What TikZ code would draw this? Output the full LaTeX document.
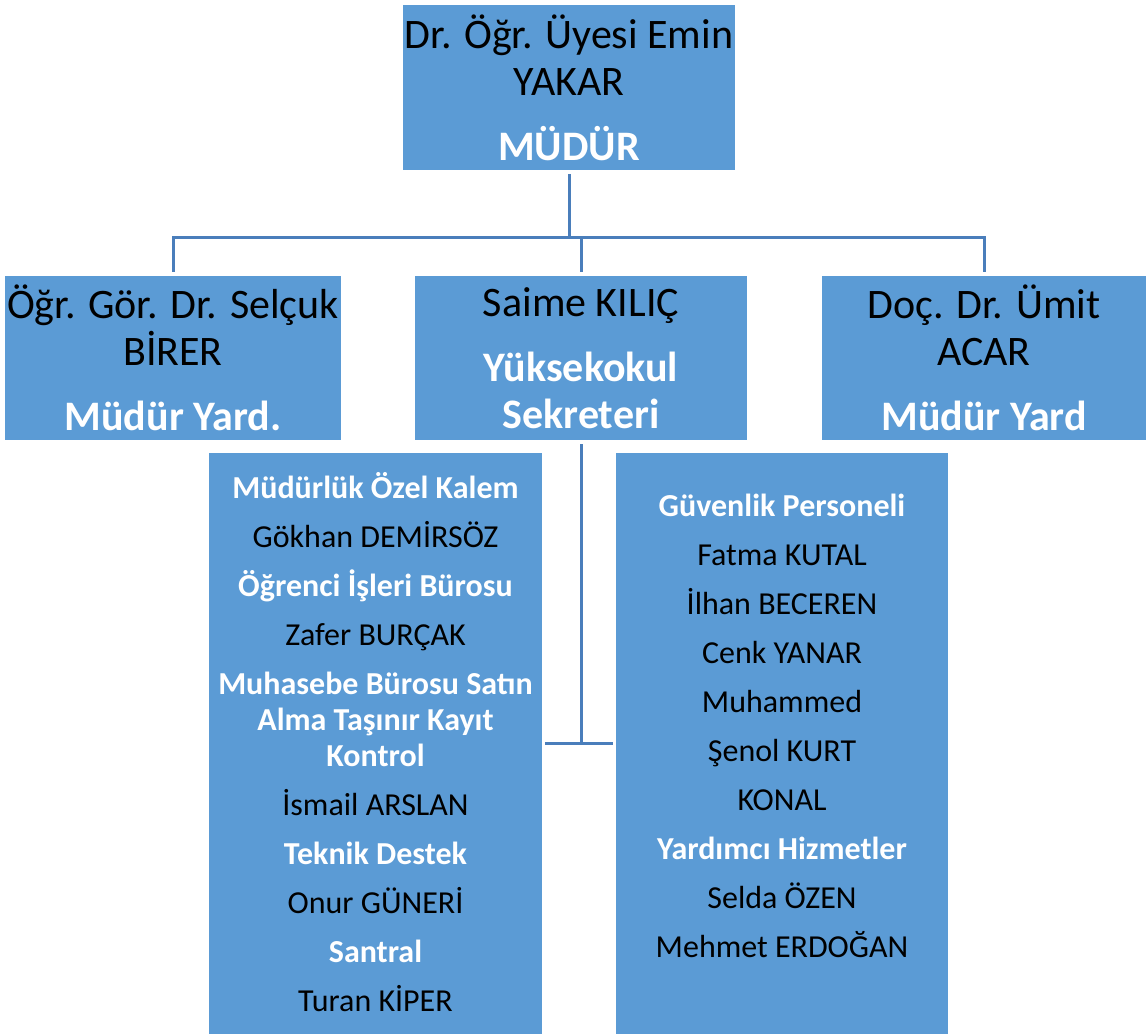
\documentclass[tikz,border=0pt]{standalone}
\usepackage{fontspec}
\setmainfont{Carlito}
\usetikzlibrary{positioning,calc}
\definecolor{boxblue}{RGB}{91,155,213}
\definecolor{lineblue}{RGB}{74,126,187}
\newcommand{\hd}[1]{{\bfseries\color{white}#1}}

\begin{document}
\begin{tikzpicture}[x=1pt,y=-1pt,
    box/.style={fill=boxblue, inner sep=0pt, align=center, font=\fontsize{42}{47}\selectfont},
    lst/.style={inner sep=0pt, align=center, font=\fontsize{32}{36}\selectfont},
    conn/.style={draw=lineblue, line width=3pt}]
  \useasboundingbox (0,0) rectangle (1148,1034);

  % top
  \node[box, minimum width=332pt, minimum height=165pt] (mudur) at (569,87.5)
    {Dr. Öğr. Üyesi Emin\\YAKAR\\[18pt]\hd{MÜDÜR}};

  % second row
  \node[box, minimum width=336pt, minimum height=164pt] (yard1) at (173,358)
    {Öğr. Gör. Dr. Selçuk\\BİRER\\[18pt]\hd{Müdür Yard.}};
  \node[box, minimum width=332pt, minimum height=164pt] (sek) at (581,358)
    {Saime KILIÇ\\[18pt]\hd{Yüksekokul}\\\hd{Sekreteri}};
  \node[box, minimum width=324pt, minimum height=164pt] (yard2) at (984,358)
    {Doç. Dr. Ümit\\ACAR\\[18pt]\hd{Müdür Yard}};

  % staff boxes
  \node[box, minimum width=333pt, minimum height=581pt] (ozel) at (375.5,743.5) {};
  \node[box, minimum width=332pt, minimum height=581pt] (guv) at (782,743.5) {};

  \node[lst] (ozelt) at (375.5,742)
    {\hd{Müdürlük Özel Kalem}\\[13pt]
     Gökhan DEMİRSÖZ\\[13pt]
     \hd{Öğrenci İşleri Bürosu}\\[13pt]
     Zafer BURÇAK\\[13pt]
     \hd{Muhasebe Bürosu Satın}\\\hd{Alma Taşınır Kayıt}\\\hd{Kontrol}\\[13pt]
     İsmail ARSLAN\\[13pt]
     \hd{Teknik Destek}\\[13pt]
     Onur GÜNERİ\\[13pt]
     \hd{Santral}\\[13pt]
     Turan KİPER};
  \node[lst] (guvt) at (782,726)
    {\hd{Güvenlik Personeli}\\[13pt]
     Fatma KUTAL\\[13pt]
     İlhan BECEREN\\[13pt]
     Cenk YANAR\\[13pt]
     Muhammed\\[13pt]
     Şenol KURT\\[13pt]
     KONAL\\[13pt]
     \hd{Yardımcı Hizmetler}\\[13pt]
     Selda ÖZEN\\[13pt]
     Mehmet ERDOĞAN};

  % connectors
  \coordinate (bar) at (569,237);
  \draw[conn, shorten <=4pt] (mudur.south) -- (mudur.south |- bar);
  \draw[conn, shorten <=4pt, shorten >=4pt] (yard1.north) -- (yard1.north |- bar)
    -- (yard2.north |- bar) -- (yard2.north);
  \draw[conn, shorten <=4pt] (sek.north) -- (sek.north |- bar);
  \draw[conn, shorten <=4pt] (sek.south) -- (sek.south |- ozel.east);
  \draw[conn, shorten <=3pt, shorten >=3pt] (ozel.east) -- (guv.west);
\end{tikzpicture}
\end{document}
